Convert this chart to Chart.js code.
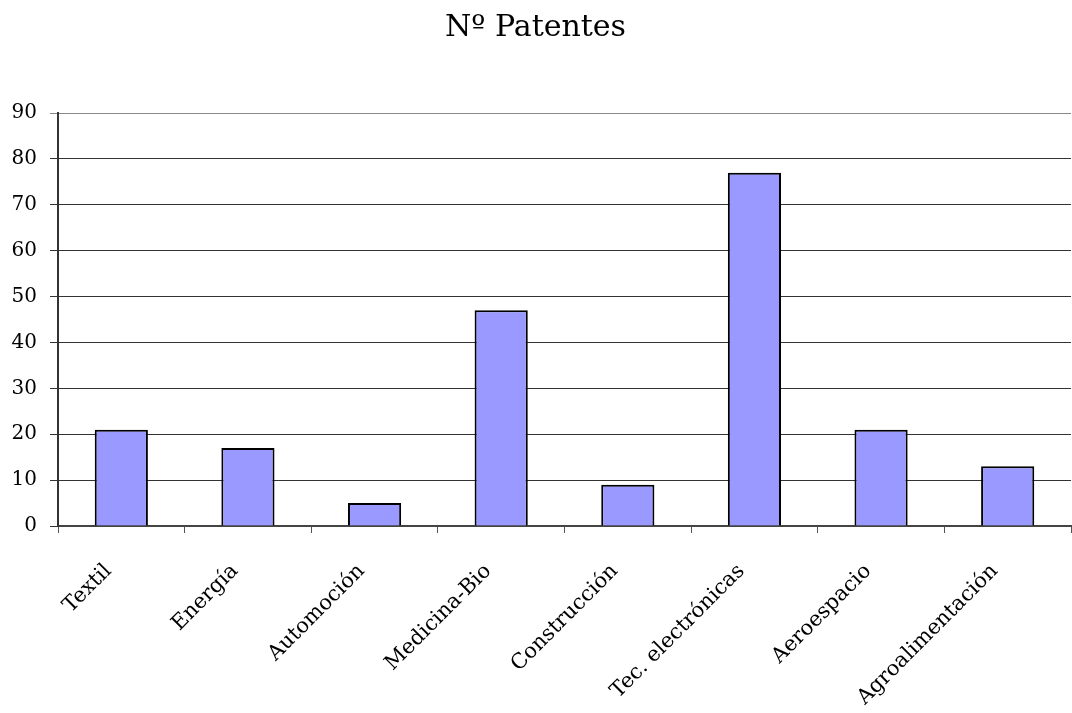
<!DOCTYPE html>
<html>
<head>
<meta charset="utf-8">
<script src="https://cdn.jsdelivr.net/npm/chart.js@4/dist/chart.umd.min.js"></script>
<style>
  html, body { margin: 0; padding: 0; background: #fff; }
  #wrap { width: 1072px; height: 713px; }
</style>
</head>
<body>
<div id="wrap"><canvas id="c" width="1072" height="713"></canvas></div>
<script>
const categories = ['Textil', 'Energía', 'Automoción', 'Medicina-Bio', 'Construcción', 'Tec. electrónicas', 'Aeroespacio', 'Agroalimentación'];
const patentes = [21, 17, 5, 47, 9, 77, 21, 13];
const yTicks = [0, 10, 20, 30, 40, 50, 60, 70, 80, 90];

const FONT = "'DejaVu Serif', serif";

new Chart(document.getElementById('c'), {
  type: 'bar',
  data: {
    labels: categories,
    datasets: [{
      label: 'Nº Patentes',
      data: patentes,
      backgroundColor: '#9999ff',
      borderColor: '#000000',
      borderWidth: 2,
      barPercentage: 0.42,
      categoryPercentage: 1.0
    }]
  },
  options: {
    responsive: false,
    animation: false,
    layout: { padding: { left: 0, right: 1, top: 0, bottom: 0 } },
    plugins: {
      legend: { display: false },
      tooltip: { enabled: false },
      title: {
        display: true,
        text: 'Nº Patentes',
        color: '#000',
        font: { family: FONT, size: 30, weight: 'normal' },
        padding: { top: 10, bottom: 67 }
      }
    },
    scales: {
      x: {
        offset: true,
        grid: {
          display: true,
          offset: true,
          drawOnChartArea: false,
          drawTicks: true,
          tickLength: 7,
          color: '#555',
          lineWidth: 1
        },
        border: { display: true, color: '#444', width: 2 },
        ticks: {
          color: '#000',
          font: { family: FONT, size: 21 },
          minRotation: 45,
          maxRotation: 45,
          padding: 26,
          labelOffset: -13,
          autoSkip: false
        },
        afterFit(scale) { scale.height = 187; }
      },
      y: {
        min: 0,
        max: 90,
        afterBuildTicks(scale) { scale.ticks = yTicks.map(v => ({ value: v })); },
        grid: {
          color: (ctx) => ctx.tick && ctx.tick.value === 90 ? '#888' : '#333',
          lineWidth: 1,
          drawTicks: true,
          tickLength: 8
        },
        border: { display: true, color: '#333', width: 2 },
        ticks: {
          color: '#000',
          font: { family: FONT, size: 20 },
          padding: 13
        },
        afterFit(scale) { scale.width = 58; }
      }
    }
  }
});
</script>
</body>
</html>
